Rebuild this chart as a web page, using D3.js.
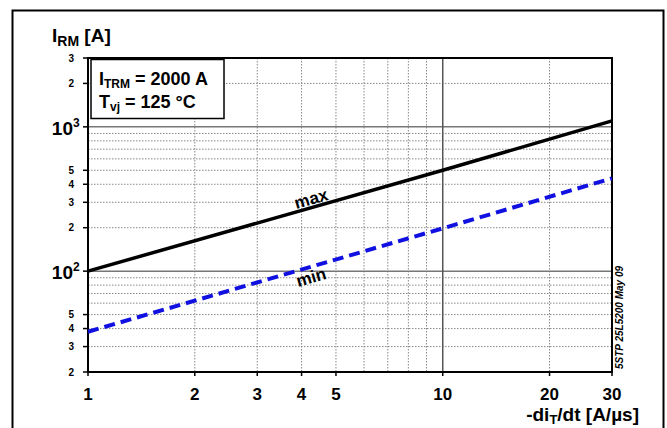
<!DOCTYPE html>
<meta charset="utf-8">
<title>IRM vs di/dt</title>
<style>
    body { margin: 0; background: #fff; }
    svg text { font-family: "Liberation Sans", Arial, sans-serif; font-weight: bold; }
</style>
<body>
<svg id="chart" width="667" height="428"></svg>
<script src="https://d3js.org/d3.v7.min.js"></script>
<script>
    // curve data
    var didt = [1, 10, 30];
    var irmMax = [100, 500, 1100];
    var irmMin = [38, 198, 440];

    var xTickLabels = [1, 2, 3, 4, 5, 10, 20, 30];
    var yTickLabels = [20, 30, 40, 50, 200, 300, 400, 500, 2000, 3000];
    var yDecades = [100, 1000];

    var svg = d3.select("#chart");
    var pLeft = 88, pRight = 612, pTop = 58, pBottom = 372;

    var x = d3.scaleLog().domain([1, 30]).range([pLeft, pRight]);
    var y = d3.scaleLog().domain([20, 3000]).range([pBottom, pTop]);

    // outer frame
    svg.append("rect").attr("x", 12.5).attr("y", 10.5).attr("width", 651).attr("height", 420)
        .attr("fill", "none").attr("stroke", "#000").attr("stroke-width", 2);

    // minor grid
    var xMinor = [], yMinor = [];
    for (var i = 2; i <= 9; i++) { xMinor.push(i); xMinor.push(i * 10); }
    xMinor = xMinor.filter(function (d) { return d < 30; });
    [10, 100, 1000].forEach(function (dec) {
        for (var k = 2; k <= 9; k++) {
            var v = k * dec;
            if (v > 20 && v < 3000) yMinor.push(v);
        }
    });
    var grid = svg.append("g");
    grid.selectAll(".xm").data(xMinor).enter().append("line")
        .attr("x1", x).attr("x2", x).attr("y1", pTop).attr("y2", pBottom)
        .attr("stroke", "#888").attr("stroke-width", 1).attr("stroke-dasharray", "1.5,1.5");
    grid.selectAll(".ym").data(yMinor).enter().append("line")
        .attr("x1", pLeft).attr("x2", pRight).attr("y1", y).attr("y2", y)
        .attr("stroke", "#888").attr("stroke-width", 1).attr("stroke-dasharray", "1.5,1.5");

    // major grid
    grid.selectAll(".yM").data(yDecades).enter().append("line")
        .attr("x1", pLeft).attr("x2", pRight).attr("y1", y).attr("y2", y)
        .attr("stroke", "#777").attr("stroke-width", 1.5);
    grid.append("line").attr("x1", x(10)).attr("x2", x(10)).attr("y1", pTop).attr("y2", pBottom)
        .attr("stroke", "#555").attr("stroke-width", 1.5);

    // plot frame
    svg.append("rect").attr("x", pLeft).attr("y", pTop).attr("width", pRight - pLeft).attr("height", pBottom - pTop)
        .attr("fill", "none").attr("stroke", "#000").attr("stroke-width", 2);

    // y ticks and labels
    var yt = svg.append("g");
    yt.selectAll("line").data(yTickLabels.concat(yDecades)).enter().append("line")
        .attr("x1", pLeft - 5).attr("x2", pLeft).attr("y1", y).attr("y2", y)
        .attr("stroke", "#000").attr("stroke-width", 1.5);
    yt.selectAll(".lbl").data(yTickLabels).enter().append("text")
        .attr("x", pLeft - 14).attr("y", function (d) { return y(d) + 3.5; })
        .attr("text-anchor", "end").style("font-size", "10px")
        .text(function (d) { return String(d).charAt(0); });
    yDecades.forEach(function (d, i) {
        yt.append("text").attr("x", pLeft - 15).attr("y", y(d) + 8)
            .attr("text-anchor", "end").style("font-size", "19px").text("10");
        yt.append("text").attr("x", pLeft - 15).attr("y", y(d) + 0)
            .style("font-size", "12px").text(i + 2);
    });

    // x ticks and labels
    var xt = svg.append("g");
    xt.selectAll("line").data(xTickLabels).enter().append("line")
        .attr("x1", x).attr("x2", x).attr("y1", pBottom).attr("y2", pBottom + 4)
        .attr("stroke", "#000").attr("stroke-width", 1.5);
    xt.selectAll("text").data(xTickLabels).enter().append("text")
        .attr("x", x).attr("y", pBottom + 28).attr("text-anchor", "middle")
        .style("font-size", "17px").text(function (d) { return d; });

    // curves
    var line = d3.line()
        .x(function (d) { return x(d[0]); })
        .y(function (d) { return y(d[1]); });
    svg.append("path").datum(d3.zip(didt, irmMax)).attr("d", line)
        .attr("fill", "none").attr("stroke", "#000").attr("stroke-width", 3.5);
    svg.append("path").datum(d3.zip(didt, irmMin)).attr("d", line)
        .attr("fill", "none").attr("stroke", "#1010e0").attr("stroke-width", 4)
        .attr("stroke-dasharray", "11,6");

    // curve labels
    function angle(xs, ys) {
        var dx = x(xs[2]) - x(xs[0]), dy = y(ys[2]) - y(ys[0]);
        return Math.atan2(dy, dx) * 180 / Math.PI;
    }
    svg.append("text").attr("transform", "translate(" + x(4.3) + "," + (y(310) + 4) + ") rotate(" + angle(didt, irmMax) + ")")
        .attr("text-anchor", "middle").style("font-size", "17px").text("max");
    svg.append("text").attr("transform", "translate(" + x(4.3) + "," + (y(90) + 5) + ") rotate(" + angle(didt, irmMin) + ")")
        .attr("text-anchor", "middle").style("font-size", "17px").text("min");

    // legend box
    svg.append("rect").attr("x", 91).attr("y", 59.5).attr("width", 133).attr("height", 59)
        .attr("fill", "#fff").attr("stroke", "#000").attr("stroke-width", 1.5);
    var l1 = svg.append("text").attr("x", 99).attr("y", 85).style("font-size", "18px");
    l1.append("tspan").text("I");
    l1.append("tspan").attr("dy", 3).style("font-size", "12px").text("TRM");
    l1.append("tspan").attr("dy", -3).text(" = 2000 A");
    var l2 = svg.append("text").attr("x", 99).attr("y", 108).style("font-size", "18px");
    l2.append("tspan").text("T");
    l2.append("tspan").attr("dy", 3).style("font-size", "12px").text("vj");
    l2.append("tspan").attr("dy", -3).text(" = 125 °C");

    // axis titles
    var yT = svg.append("text").attr("x", 52).attr("y", 42).style("font-size", "19px");
    yT.append("tspan").text("I");
    yT.append("tspan").attr("dy", 4).style("font-size", "14px").text("RM");
    yT.append("tspan").attr("dy", -4).text(" [A]");

    var xT = svg.append("text").attr("x", 639).attr("y", 421).attr("text-anchor", "end").style("font-size", "19px");
    xT.append("tspan").text("-di");
    xT.append("tspan").attr("dy", 3).style("font-size", "13px").text("T");
    xT.append("tspan").attr("dy", -3).text("/dt [A/µs]");

    // document code
    svg.append("text").attr("transform", "translate(623,369) rotate(-90)")
        .style("font-size", "10px").style("font-style", "italic").text("5STP 25L5200 May 09");
</script>
</body>
